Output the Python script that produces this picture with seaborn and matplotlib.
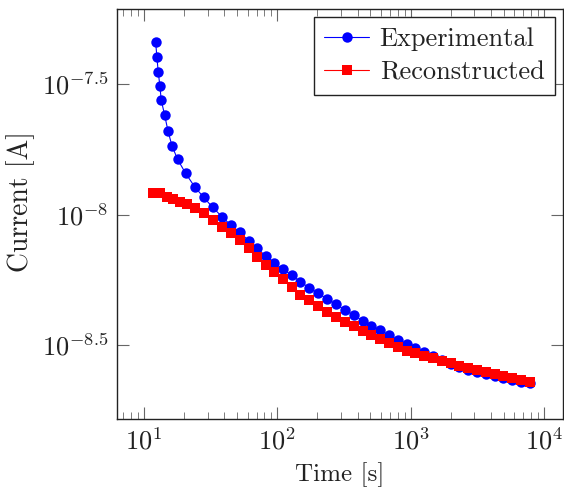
import numpy as np
import pandas as pd
import matplotlib
matplotlib.use("Agg")
import matplotlib.pyplot as plt
import seaborn as sns
from matplotlib.ticker import FixedLocator, FixedFormatter, LogLocator, NullFormatter

# time [s] and current [A]
exp_time = [12.24, 12.52, 12.80, 13.18, 13.48, 14.30, 15.14, 16.22, 17.89, 20.55,
            24.01, 28.05, 32.76, 38.47, 44.72, 52.51, 61.0, 70.8, 81.9, 94.9,
            110.4, 128.3, 148.8, 173.8, 203.0, 236.0, 275.7, 322.2, 374.9, 436.4,
            508.1, 591.4, 688.7, 801.7, 933.3, 1086, 1265, 1472, 1714, 1995,
            2323, 2704, 3148, 3664, 4266, 4966, 5781, 6730, 7834]
exp_current = [4.59e-8, 4.00e-8, 3.52e-8, 3.107e-8, 2.746e-8, 2.405e-8, 2.095e-8, 1.835e-8, 1.627e-8, 1.438e-8,
               1.278e-8, 1.164e-8, 1.066e-8, 9.81e-9, 9.12e-9, 8.55e-9, 7.93e-9, 7.42e-9, 6.93e-9, 6.54e-9,
               6.17e-9, 5.86e-9, 5.53e-9, 5.24e-9, 4.99e-9, 4.75e-9, 4.53e-9, 4.31e-9, 4.109e-9, 3.925e-9,
               3.756e-9, 3.599e-9, 3.450e-9, 3.310e-9, 3.190e-9, 3.079e-9, 2.975e-9, 2.872e-9, 2.782e-9, 2.686e-9,
               2.611e-9, 2.547e-9, 2.492e-9, 2.444e-9, 2.401e-9, 2.363e-9, 2.326e-9, 2.291e-9, 2.261e-9]

rec_time = [11.74, 13.18, 14.80, 16.59, 18.62, 20.91, 24.13, 28.05, 32.76, 38.47,
            44.72, 52.51, 61.0, 70.8, 81.9, 94.9, 110.4, 128.3, 148.8, 173.8,
            203.0, 236.0, 275.7, 322.2, 374.9, 436.4, 508.1, 591.4, 688.7, 801.7,
            933.3, 1086, 1265, 1472, 1714, 1995, 2323, 2704, 3148, 3664,
            4266, 4966, 5781, 6730, 7834]
rec_current = [1.212e-8, 1.206e-8, 1.170e-8, 1.143e-8, 1.119e-8, 1.097e-8, 1.056e-8, 1.011e-8, 9.53e-9, 8.98e-9,
               8.47e-9, 7.99e-9, 7.47e-9, 6.89e-9, 6.40e-9, 6.03e-9, 5.66e-9, 5.26e-9, 4.91e-9, 4.70e-9,
               4.46e-9, 4.24e-9, 4.06e-9, 3.88e-9, 3.725e-9, 3.574e-9, 3.441e-9, 3.322e-9, 3.207e-9, 3.096e-9,
               3.012e-9, 2.941e-9, 2.874e-9, 2.812e-9, 2.751e-9, 2.693e-9, 2.639e-9, 2.583e-9, 2.533e-9, 2.487e-9,
               2.441e-9, 2.399e-9, 2.359e-9, 2.319e-9, 2.281e-9]

y_tick_exps = [-8.5, -8.0, -7.5]
y_tick_labels = [r"$10^{-8.5}$", r"$10^{-8}$", r"$10^{-7.5}$"]

sns.set_style("ticks")
plt.rcParams["font.family"] = ["cmr10", "DejaVu Serif"]
plt.rcParams["mathtext.fontset"] = "cm"
plt.rcParams["axes.formatter.use_mathtext"] = True

df_exp = pd.DataFrame({"t": exp_time, "i": exp_current})
df_rec = pd.DataFrame({"t": rec_time, "i": rec_current})

fig = plt.figure(figsize=(5.64, 4.93), dpi=100)
ax = fig.add_axes([0.2074, 0.150, 0.7908, 0.8317])

sns.lineplot(data=df_exp, x="t", y="i", ax=ax, color="#0000ff", marker="o",
             markersize=7.5, markeredgewidth=0, linewidth=0.8, sort=False,
             estimator=None, label="Experimental")
sns.lineplot(data=df_rec, x="t", y="i", ax=ax, color="#ff0000", marker="s",
             markersize=6.6, markeredgewidth=0, linewidth=0.8, sort=False,
             estimator=None, label="Reconstructed")

ax.set_xscale("log")
ax.set_yscale("log")
ax.set_xlim(6.28, 13880)
ax.set_ylim(10 ** -8.7835, 10 ** -7.2126)

ax.xaxis.set_major_locator(FixedLocator([10, 100, 1000, 10000]))
ax.xaxis.set_minor_locator(LogLocator(base=10, subs=np.arange(2, 10), numticks=20))
ax.xaxis.set_minor_formatter(NullFormatter())

ax.yaxis.set_major_locator(FixedLocator([10 ** e for e in y_tick_exps]))
ax.yaxis.set_major_formatter(FixedFormatter(y_tick_labels))
ax.yaxis.set_minor_locator(FixedLocator([]))

ax.tick_params(which="both", direction="in", top=True, right=True,
               colors="#666666", labelcolor="#222222", labelsize=19)
ax.tick_params(which="major", length=8.5, width=0.8, pad=6)
ax.tick_params(which="minor", length=5, width=0.6)
for s in ax.spines.values():
    s.set_linewidth(1.0)
    s.set_color("#222222")

ax.set_xlabel("Time [s]", fontsize=18, color="#222222", labelpad=6)
ax.set_ylabel("Current [A]", fontsize=20, color="#222222")
ax.yaxis.set_label_coords(-0.183, 0.53)

leg = ax.legend(loc="upper right", fontsize=19, frameon=True, fancybox=False,
                edgecolor="#222222", framealpha=1, borderpad=0.4,
                handlelength=1.7, handletextpad=0.4, labelspacing=0.35,
                borderaxespad=0.3)
leg.get_frame().set_linewidth(1.0)
for t in leg.get_texts():
    t.set_color("#222222")

fig.savefig("out.png", dpi=100)
